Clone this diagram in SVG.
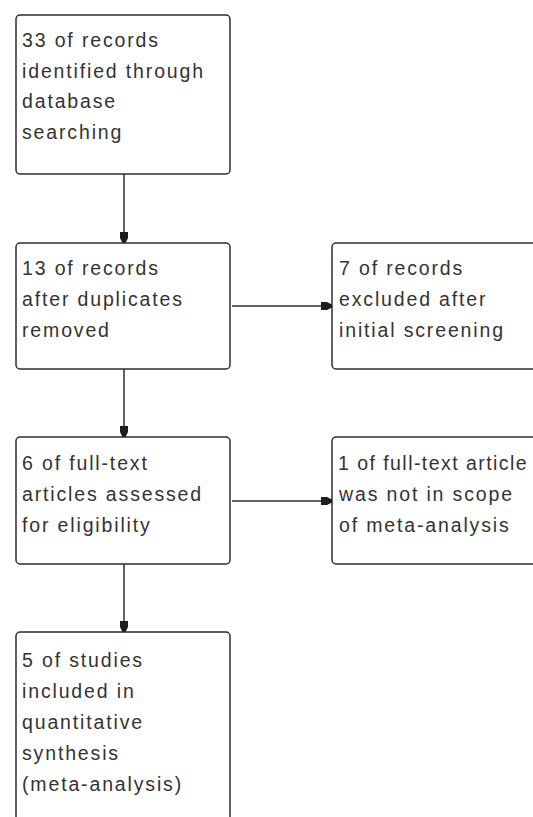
<svg xmlns="http://www.w3.org/2000/svg" width="533" height="817" viewBox="0 0 533 817">
  <style>
    .box { fill: #ffffff; stroke: #2e2e2e; stroke-width: 1.5; }
    .lbl { font-family: "Liberation Sans", Arial, sans-serif; font-size: 19.5px; letter-spacing: 1.85px; fill: #333333; }
    .tight { letter-spacing: 1.45px; }
    .conn { stroke: #2e2e2e; stroke-width: 1.5; fill: none; marker-end: url(#arr); }
  </style>
  <defs>
    <marker id="arr" markerUnits="userSpaceOnUse" markerWidth="12" markerHeight="10" viewBox="0 0 12 10" refX="11" refY="5" orient="auto">
      <path d="M0,1 L6,1 L11,3.5 L11,6.5 L6,9 L0,9 Z" fill="#1e1e1e"/>
    </marker>
  </defs>
  <rect width="533" height="817" fill="#ffffff"/>

  <g id="n1">
    <rect class="box" x="16" y="15" width="214" height="159" rx="4"/>
    <text class="lbl"><tspan x="22" y="46.5">33 of records</tspan><tspan x="22" y="77.5">identified through</tspan><tspan x="22" y="108">database</tspan><tspan x="22" y="139">searching</tspan></text>
  </g>

  <g id="n2">
    <rect class="box" x="16" y="243" width="214" height="126" rx="4"/>
    <text class="lbl"><tspan x="22" y="275">13 of records</tspan><tspan x="22" y="306">after duplicates</tspan><tspan x="22" y="337">removed</tspan></text>
  </g>

  <g id="n3">
    <rect class="box" x="332" y="243" width="240" height="126" rx="4"/>
    <text class="lbl"><tspan x="339" y="275">7 of records</tspan><tspan x="339" y="306">excluded after</tspan><tspan x="339" y="337">initial screening</tspan></text>
  </g>

  <g id="n4">
    <rect class="box" x="16" y="437" width="214" height="127" rx="4"/>
    <text class="lbl"><tspan x="22" y="470">6 of full-text</tspan><tspan x="22" y="501">articles assessed</tspan><tspan x="22" y="532">for eligibility</tspan></text>
  </g>

  <g id="n5">
    <rect class="box" x="332" y="437" width="240" height="127" rx="4"/>
    <text class="lbl"><tspan class="tight" x="338" y="470">1 of full-text article</tspan><tspan x="339" y="501">was not in scope</tspan><tspan x="339" y="532">of meta-analysis</tspan></text>
  </g>

  <g id="n6">
    <rect class="box" x="16" y="632" width="214" height="220" rx="4"/>
    <text class="lbl"><tspan x="22" y="667">5 of studies</tspan><tspan x="22" y="698">included in</tspan><tspan x="22" y="729">quantitative</tspan><tspan x="22" y="760">synthesis</tspan><tspan x="22" y="791">(meta-analysis)</tspan></text>
  </g>

  <g id="connectors">
    <line class="conn" x1="124" y1="174" x2="124" y2="243"/>
    <line class="conn" x1="124" y1="369" x2="124" y2="437"/>
    <line class="conn" x1="124" y1="564" x2="124" y2="632"/>
    <line class="conn" x1="232" y1="306" x2="332" y2="306"/>
    <line class="conn" x1="232" y1="501" x2="332" y2="501"/>
  </g>
</svg>
